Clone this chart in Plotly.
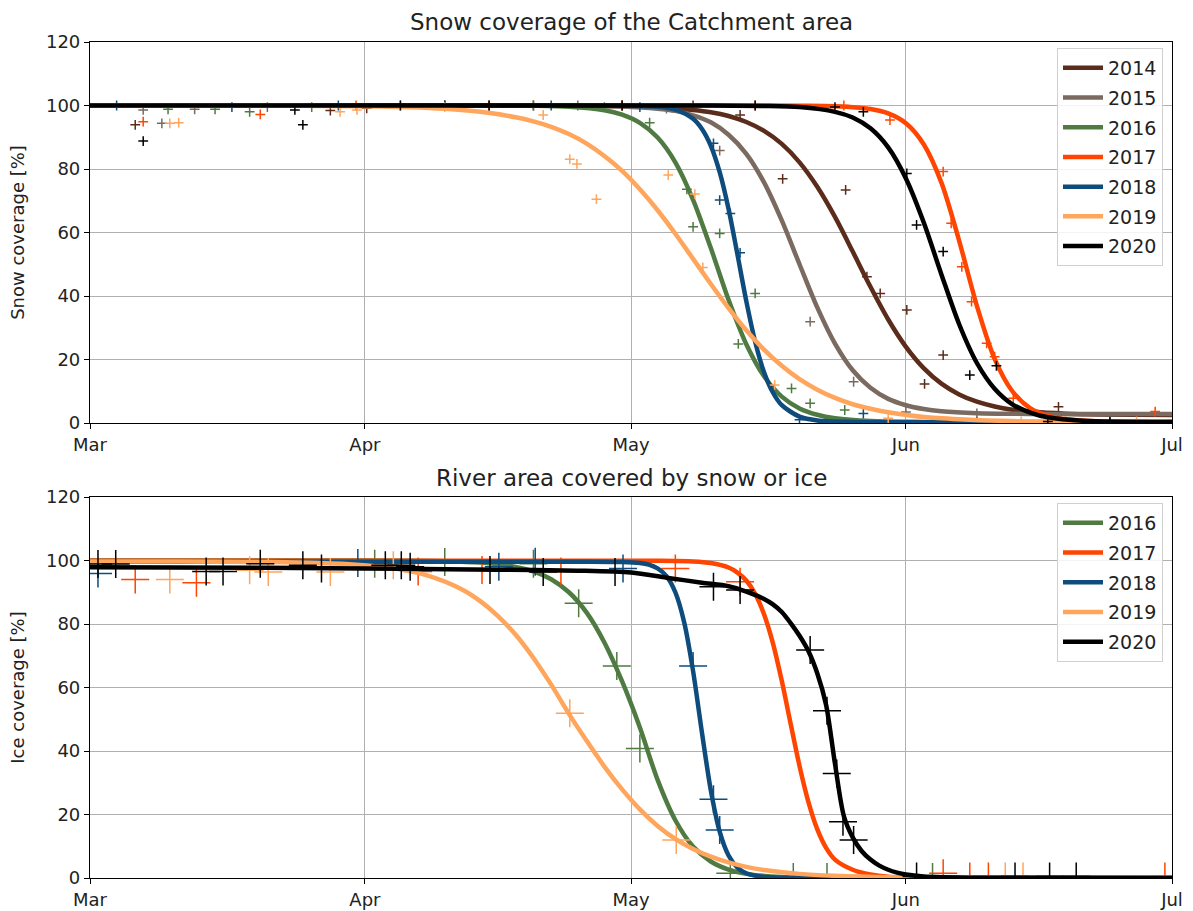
import pandas as pd
import plotly.graph_objects as go
from plotly.subplots import make_subplots

BASE = pd.Timestamp("2021-03-01")
MONTH_TICKS = ["2021-03-01", "2021-04-01", "2021-05-01", "2021-06-01", "2021-07-01"]
MONTH_LABELS = ["Mar", "Apr", "May", "Jun", "Jul"]
Y_TICKS = [0, 20, 40, 60, 80, 100, 120]

COLORS = {
    "2014": "#5b2c1c", "2015": "#7a6a60", "2016": "#4f7a42", "2017": "#ff4500",
    "2018": "#0d4c7d", "2019": "#ffa55c", "2020": "#000000",
}

# ---------- Top panel: snow coverage of catchment (days since 1 Mar) ----------
snow_fit_2014_days = [0, 30, 50, 60, 64, 68, 70, 72, 74, 76, 78, 80, 82, 84, 86, 88, 90, 92, 94, 96, 98, 100, 102, 104, 106, 110, 114, 122]
snow_fit_2014_vals = [100, 100, 99.95, 99.8, 99.45, 98.6, 97.9, 96.7, 94.8, 92.0, 87.9, 82.1, 74.4, 64.9, 54.0, 42.9, 32.6, 24.0, 17.3, 12.4, 9.0, 6.7, 5.2, 4.2, 3.6, 2.95, 2.7, 2.55]
snow_fit_2015_days = [0, 40, 56, 60, 64, 66, 68, 70, 72, 74, 76, 78, 80, 82, 84, 86, 88, 90, 92, 94, 96, 100, 106, 122]
snow_fit_2015_vals = [100, 100, 99.9, 99.7, 99.0, 98.3, 96.9, 94.7, 90.8, 84.8, 75.8, 63.8, 50.0, 36.4, 25.0, 16.6, 11.1, 7.6, 5.6, 4.4, 3.7, 3.1, 2.85, 2.8]
snow_fit_2016_days = [0, 40, 50, 54, 58, 60, 62, 64, 66, 68, 70, 72, 74, 76, 78, 80, 82, 84, 88, 94, 122]
snow_fit_2016_vals = [100, 100, 99.9, 99.6, 98.5, 97.1, 94.5, 89.9, 82.1, 70.3, 55.1, 38.8, 24.8, 14.7, 8.3, 4.6, 2.6, 1.5, 0.6, 0.35, 0.3]
snow_fit_2017_days = [0, 60, 80, 84, 88, 90, 92, 94, 96, 98, 100, 102, 104, 106, 108, 110, 114, 122]
snow_fit_2017_vals = [100, 100, 99.95, 99.8, 98.9, 97.5, 94.4, 87.8, 75.7, 57.4, 36.9, 20.2, 10.0, 4.7, 2.3, 1.2, 0.5, 0.3]
snow_fit_2018_days = [0, 40, 60, 64, 66, 68, 69, 70, 71, 72, 73, 74, 75, 76, 77, 78, 80, 82, 86, 122]
snow_fit_2018_vals = [100, 100, 99.95, 99.6, 98.7, 95.8, 92.6, 87.3, 79.0, 67.4, 53.1, 38.4, 25.6, 16.0, 9.6, 5.6, 2.0, 0.8, 0.35, 0.3]
snow_fit_2019_days = [0, 20, 30, 36, 40, 44, 48, 50, 52, 54, 56, 58, 60, 62, 64, 66, 68, 70, 72, 74, 76, 78, 80, 82, 84, 86, 88, 90, 94, 98, 104, 112, 122]
snow_fit_2019_vals = [100, 99.95, 99.8, 99.45, 98.95, 98.0, 96.3, 95.0, 93.3, 91.0, 88.0, 84.1, 79.4, 73.6, 67.0, 59.6, 51.7, 43.8, 36.2, 29.2, 23.1, 18.0, 13.8, 10.5, 7.9, 5.9, 4.5, 3.4, 1.9, 1.2, 0.6, 0.4, 0.32]
snow_fit_2020_days = [0, 60, 70, 76, 80, 84, 86, 88, 90, 92, 94, 96, 98, 100, 102, 104, 106, 108, 112, 122]
snow_fit_2020_vals = [100, 100, 99.98, 99.86, 99.5, 98.0, 96.2, 92.8, 86.8, 77.0, 63.2, 46.8, 31.1, 18.9, 10.8, 5.9, 3.3, 1.8, 0.7, 0.3]

snow_obs_2014_days = [5.1, 27.1, 31.2, 40, 50, 60, 68, 73.3, 78.1, 85.2, 87.6, 89.1, 92.1, 94.1, 96.2, 109.2]
snow_obs_2014_vals = [93.9, 98.4, 99.1, 100, 100, 100, 100, 97.0, 76.9, 73.4, 46.1, 40.8, 35.6, 12.3, 21.4, 5.1]
snow_obs_2015_days = [6.0, 8.1, 11.8, 20, 35, 45, 55, 65, 71.0, 81.2, 86.1, 92, 100]
snow_obs_2015_vals = [98.6, 94.4, 98.8, 99.5, 100, 100, 100, 99.0, 85.8, 31.9, 13.0, 3.5, 3.0]
snow_obs_2016_days = [8.8, 14.1, 18.0, 25, 40, 50, 58, 63.1, 67.3, 68.0, 71.0, 73.1, 75.0, 79.1, 81.2, 85.1, 95, 110]
snow_obs_2016_vals = [98.8, 98.8, 98.0, 99.5, 100, 100, 99.5, 94.6, 73.6, 61.8, 59.7, 24.9, 40.8, 10.9, 6.2, 4.1, 0.5, 0.3]
snow_obs_2017_days = [6.0, 19.2, 30, 45, 60, 75, 85, 90.2, 96.2, 97.1, 98.3, 99.4, 101.1, 102.0, 104.1, 110, 120.1]
snow_obs_2017_vals = [94.9, 97.2, 100, 100, 100, 100, 100, 95.4, 79.2, 62.9, 49.2, 38.2, 25.1, 20.9, 7.8, 0.5, 3.6]
snow_obs_2018_days = [3, 16, 28, 40, 52, 62, 70.3, 71.0, 72.2, 73.3, 80, 87.2, 100, 115]
snow_obs_2018_vals = [100, 99.5, 100, 100, 100, 99.5, 88.1, 70.2, 66.0, 53.6, 1.0, 3.0, 0.3, 0.5]
snow_obs_2019_days = [9.0, 10.0, 28.2, 30.1, 40, 51.1, 54.1, 54.9, 57.1, 65.2, 68.2, 69.1, 77.2, 90, 105, 118]
snow_obs_2019_vals = [94.4, 94.6, 98.0, 98.6, 99.5, 97.0, 83.1, 81.6, 70.5, 78.1, 72.1, 49.0, 12.0, 1.5, 0.5, 0.5]
snow_obs_2020_days = [6.0, 23.1, 24.0, 35, 45, 60, 75, 84, 87.2, 92.1, 93.2, 96.2, 99.2, 102.2, 108, 115]
snow_obs_2020_vals = [88.8, 98.6, 93.9, 100, 100, 100, 100, 99.5, 98.0, 78.6, 62.4, 54.0, 15.1, 18.0, 0.5, 0.3]

# ---------- Bottom panel: river ice coverage ----------
ice_fit_2016_days = [0, 30, 40, 44, 48, 50, 52, 54, 56, 58, 60, 62, 64, 66, 68, 70, 72, 74, 78, 84, 122]
ice_fit_2016_vals = [100, 99.99, 99.8, 99.35, 98.0, 96.6, 94.1, 90.0, 83.6, 74.2, 61.9, 47.4, 30.9, 18.2, 9.9, 5.2, 2.65, 1.3, 0.33, 0.04, 0]
ice_fit_2017_days = [0, 60, 64, 68, 70, 72, 73, 74, 75, 76, 77, 78, 79, 80, 81, 82, 83, 84, 86, 88, 90, 94, 122]
ice_fit_2017_vals = [99.9, 99.9, 99.9, 99.7, 99.2, 97.8, 96.2, 93.7, 89.5, 83.1, 74.0, 62.1, 48.6, 35.3, 24.0, 15.4, 9.5, 5.8, 2.6, 1.1, 0.4, 0.1, 0]
ice_fit_2018_days = [0, 55, 60, 62, 63, 64, 65, 66, 67, 68, 69, 70, 71, 72, 73, 74, 76, 80, 122]
ice_fit_2018_vals = [99.6, 99.6, 99.5, 99.2, 98.7, 97.5, 95.1, 90.0, 80.5, 65.2, 45.8, 27.6, 14.6, 7.1, 3.3, 1.5, 0.3, 0.01, 0]
ice_fit_2019_days = [0, 10, 20, 26, 30, 34, 38, 42, 44, 46, 48, 50, 52, 54, 56, 58, 60, 62, 64, 66, 68, 70, 72, 74, 76, 80, 84, 90, 100, 122]
ice_fit_2019_vals = [99.7, 99.7, 99.5, 99.2, 98.7, 97.6, 95.3, 90.8, 87.2, 82.5, 76.6, 69.3, 60.9, 51.7, 43.2, 35.1, 27.9, 21.6, 16.4, 12.3, 9.1, 6.7, 4.9, 3.5, 2.5, 1.3, 0.7, 0.24, 0.05, 0]
ice_fit_2020_days = [0, 20, 35, 46, 55, 61, 65, 69, 72, 74, 76, 77, 78, 79, 80, 81, 82, 83, 84, 85, 86, 87, 88, 89, 90, 91, 92, 94, 100, 122]
ice_fit_2020_vals = [97.9, 97.7, 97.4, 97.1, 96.8, 96.2, 94.6, 93.0, 91.9, 90.2, 87.9, 86.2, 83.8, 80.3, 76.3, 71.5, 64.5, 54.5, 36.0, 19.5, 12.8, 8.5, 5.8, 3.9, 2.6, 1.7, 1.1, 0.5, 0.1, 0]

ice_obs_2016_days = [32.1, 40, 50, 55.1, 59.4, 62.0, 72.2, 79.3, 83.1, 95]
ice_obs_2016_vals = [99.0, 99.5, 99.0, 86.5, 66.8, 40.8, 1.5, 0.3, 0.3, 0.3]
ice_obs_2017_days = [5.1, 12.0, 37.0, 44.2, 53.1, 66.0, 73.3, 96.2, 99.2, 101.3, 121.2]
ice_obs_2017_vals = [94.0, 93.0, 96.5, 97.0, 96.5, 97.5, 93.3, 1.5, 0.5, 0.5, 0.5]
ice_obs_2018_days = [0.9, 30.2, 46.1, 50.2, 60.1, 68.0, 70.3, 71.0]
ice_obs_2018_vals = [95.9, 99.2, 98.0, 99.6, 97.5, 66.8, 24.8, 15.1]
ice_obs_2019_days = [9.0, 18.0, 20.1, 27.1, 34.2, 54.1, 66.1, 103.2, 105.2]
ice_obs_2019_vals = [94.0, 96.9, 96.4, 96.4, 98.5, 51.9, 12.0, 0.5, 0.5]
ice_obs_2020_days = [0.9, 2.9, 13.1, 15.0, 19.2, 24.0, 26.1, 33.3, 35.1, 36.1, 45.1, 51.1, 59.2, 70.3, 73.3, 81.2, 83.1, 84.2, 84.9, 86.1, 93.2, 104.3, 108.2, 111.2]
ice_obs_2020_vals = [98.9, 98.9, 96.5, 96.5, 99.0, 98.5, 97.5, 98.5, 98.5, 98.0, 97.0, 96.4, 96.4, 91.7, 90.7, 71.8, 52.7, 32.9, 17.7, 12.0, 0.5, 0.5, 0.5, 0.5]

snow_years = ["2014", "2015", "2016", "2017", "2018", "2019", "2020"]
ice_years = ["2016", "2017", "2018", "2019", "2020"]
snow_fit = {y: (globals()[f"snow_fit_{y}_days"], globals()[f"snow_fit_{y}_vals"]) for y in snow_years}
snow_obs = {y: (globals()[f"snow_obs_{y}_days"], globals()[f"snow_obs_{y}_vals"]) for y in snow_years}
ice_fit = {y: (globals()[f"ice_fit_{y}_days"], globals()[f"ice_fit_{y}_vals"]) for y in ice_years}
ice_obs = {y: (globals()[f"ice_obs_{y}_days"], globals()[f"ice_obs_{y}_vals"]) for y in ice_years}


def to_dates(days):
    return [BASE + pd.Timedelta(days=float(d)) for d in days]


fig = make_subplots(rows=2, cols=1)

FONT = "DejaVu Sans"

for y in snow_years:
    d, v = snow_fit[y]
    fig.add_trace(go.Scatter(x=to_dates(d), y=v, mode="lines", name=y,
                             line=dict(color=COLORS[y], width=4.5, shape="spline", smoothing=0.8),
                             legend="legend", legendgroup="s" + y), row=1, col=1)
    d, v = snow_obs[y]
    fig.add_trace(go.Scatter(x=to_dates(d), y=v, mode="markers", showlegend=False,
                             marker=dict(symbol="cross-thin", size=7, color=COLORS[y],
                                         line=dict(color=COLORS[y], width=1.5))), row=1, col=1)

for y in ice_years:
    d, v = ice_fit[y]
    fig.add_trace(go.Scatter(x=to_dates(d), y=v, mode="lines", name=y,
                             line=dict(color=COLORS[y], width=4.5, shape="spline", smoothing=0.8),
                             legend="legend2", legendgroup="i" + y), row=2, col=1)
    d, v = ice_obs[y]
    fig.add_trace(go.Scatter(x=to_dates(d), y=v, mode="markers", showlegend=False,
                             marker=dict(symbol="cross-thin", size=20, color=COLORS[y],
                                         line=dict(color=COLORS[y], width=1.5))), row=2, col=1)

axis_common = dict(showline=True, linecolor="black", linewidth=1.2, mirror=True,
                   ticks="outside", ticklen=5, tickcolor="black", tickwidth=1.2,
                   showgrid=True, gridcolor="#b0b0b0", gridwidth=1, zeroline=False,
                   automargin=False,
                   tickfont=dict(family=FONT, size=18, color="#222"))

top_dom = [(878 - 423) / 836, 1.0]
bot_dom = [0.0, 381 / 836]

fig.update_xaxes(**axis_common, type="date", range=[MONTH_TICKS[0], MONTH_TICKS[-1]],
                 tickvals=MONTH_TICKS, ticktext=MONTH_LABELS)
fig.update_yaxes(**axis_common, range=[0, 120], tickvals=Y_TICKS)
fig.update_yaxes(domain=top_dom, row=1, col=1,
                 title=dict(text="Snow coverage [%]", font=dict(family=FONT, size=18, color="#222"), standoff=16))
fig.update_yaxes(domain=bot_dom, row=2, col=1,
                 title=dict(text="Ice coverage [%]", font=dict(family=FONT, size=18, color="#222"), standoff=16))

legend_common = dict(bgcolor="rgba(255,255,255,0.85)", bordercolor="#d0d0d0", borderwidth=1,
                     font=dict(family=FONT, size=19, color="#222"), xanchor="right", yanchor="top",
                     tracegroupgap=2, itemwidth=40)

fig.update_layout(
    width=1193, height=911,
    margin=dict(l=90, r=21, t=42, b=33),
    plot_bgcolor="white", paper_bgcolor="white",
    legend=dict(**legend_common, x=(1163 - 90) / 1082, y=(878 - 48) / 836),
    legend2=dict(**legend_common, x=(1163 - 90) / 1082, y=(878 - 503) / 836),
    annotations=[
        dict(text="Snow coverage of the Catchment area", x=0.5, y=(878 - 22) / 836, xref="paper", yref="paper",
             showarrow=False, xanchor="center", yanchor="middle", font=dict(family=FONT, size=23, color="#222")),
        dict(text="River area covered by snow or ice", x=0.5, y=(878 - 478) / 836, xref="paper", yref="paper",
             showarrow=False, xanchor="center", yanchor="middle", font=dict(family=FONT, size=23, color="#222")),
    ],
)

fig.write_html("out.html", config={"displayModeBar": False},
               post_script="document.body.style.margin='0';document.body.style.overflow='hidden';")
